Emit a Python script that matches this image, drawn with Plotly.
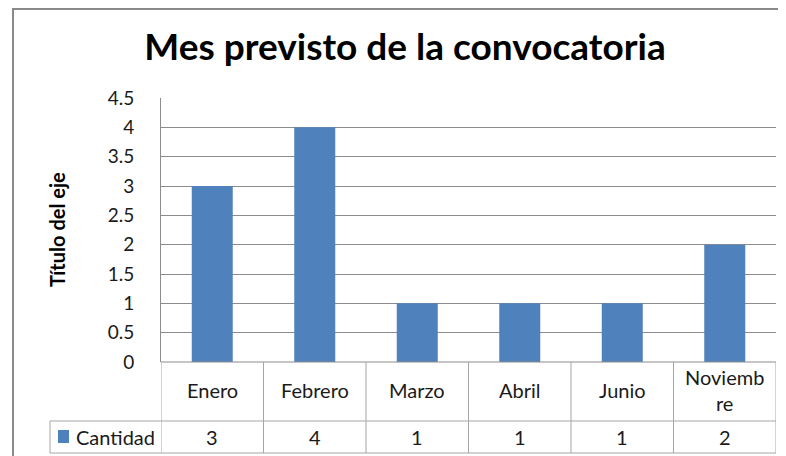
import plotly.graph_objects as go

# ---- data ----
categories = ["Enero", "Febrero", "Marzo", "Abril", "Junio", "Noviembre"]
tick_labels = ["Enero", "Febrero", "Marzo", "Abril", "Junio", "Noviemb<br>re"]
cantidad = [3, 4, 1, 1, 1, 2]
series_name = "Cantidad"
title_text = "Mes previsto de la convocatoria"
y_title = "Título del eje"
y_ticks = [0, 0.5, 1, 1.5, 2, 2.5, 3, 3.5, 4, 4.5]

BAR = "#4F81BD"
GRID = "#8C8C8C"
TBL = "#A6A6A6"
FONT = "Lato"
TXT = "#1a1a1a"

W, H = 786, 456
OFF = 8  # page body margin
L, R, T, B = 161 - OFF, 786 - (776 - OFF), 98 - OFF, 456 - (362 - OFF)
pw = W - L - R
ph = H - T - B


def py(p):  # reference pixel row -> paper y
    return (H - B - (p - OFF)) / ph


def px(p):  # reference pixel col -> paper x
    return ((p - OFF) - L) / pw


fig = go.Figure()
fig.add_trace(go.Bar(
    x=list(range(len(categories))), y=cantidad, name=series_name,
    marker=dict(color=BAR, line=dict(width=0)),
    hoverinfo="skip",
))

shapes = []
n = len(categories)
row1 = py(421)
row2 = py(453)
# outer frame
shapes.append(dict(type="rect", xref="paper", yref="paper",
                   x0=px(13), x1=px(900), y0=py(9), y1=py(700),
                   line=dict(color="#8A8A8A", width=2), layer="below"))
# table horizontal lines
shapes.append(dict(type="line", xref="paper", yref="paper", x0=0, x1=1, y0=0, y1=0,
                   line=dict(color=GRID, width=1)))
for yy in (row1, row2):
    shapes.append(dict(type="line", xref="paper", yref="paper", x0=px(50), x1=1,
                       y0=yy, y1=yy, line=dict(color=TBL, width=1)))
shapes.append(dict(type="line", xref="paper", yref="paper", x0=px(50), x1=px(50),
                   y0=row1, y1=row2, line=dict(color=TBL, width=1)))
# table vertical lines at category boundaries
for i in range(n + 1):
    shapes.append(dict(type="line", xref="x", yref="paper", x0=i - 0.5, x1=i - 0.5,
                       y0=0, y1=row2, line=dict(color=TBL, width=1)))
# legend key square
shapes.append(dict(type="rect", xref="paper", yref="paper",
                   x0=px(58), x1=px(69), y0=py(443), y1=py(430),
                   fillcolor=BAR, line=dict(width=0)))

annotations = []
for i, lab in enumerate(tick_labels):
    annotations.append(dict(x=i, y=py(390), xref="x", yref="paper", text=lab,
                            showarrow=False, font=dict(family=FONT, size=20, color=TXT),
                            xanchor="center", yanchor="middle"))
    annotations.append(dict(x=i, y=py(436.5), xref="x", yref="paper",
                            text=str(cantidad[i]), showarrow=False,
                            font=dict(family=FONT, size=20, color=TXT),
                            xanchor="center", yanchor="middle"))
annotations.append(dict(x=px(74), y=py(436.5), xref="paper", yref="paper",
                        text=series_name, showarrow=False,
                        font=dict(family=FONT, size=20, color=TXT),
                        xanchor="left", yanchor="middle"))
annotations.append(dict(x=px(57), y=0.5, xref="paper", yref="paper", text="<b>" + y_title + "</b>",
                        textangle=-90, showarrow=False,
                        font=dict(family=FONT, size=20, color="#000"),
                        xanchor="center", yanchor="middle"))

fig.update_layout(
    width=W, height=H,
    margin=dict(l=L, r=R, t=T, b=B, pad=0),
    paper_bgcolor="white", plot_bgcolor="white",
    showlegend=False,
    bargap=0.6,
    title=dict(text="<b>" + title_text + "</b>", x=(405 - OFF) / W, xanchor="center",
               y=1 - (47 - OFF) / H, yanchor="middle", xref="container", yref="container",
               font=dict(family=FONT, size=37, color="#000")),
    xaxis=dict(range=[-0.5, n - 0.5], showticklabels=False, showgrid=False,
               zeroline=False, showline=False, ticks=""),
    yaxis=dict(range=[0, 4.5], tickvals=y_ticks, ticktext=[f"{v:g}" for v in y_ticks],
               showgrid=True, gridcolor=GRID, gridwidth=1, zeroline=False,
               showline=True, linecolor=GRID, linewidth=1, ticks="",
               ticklabelstandoff=22,
               tickfont=dict(family=FONT, size=19, color=TXT)),
    shapes=shapes, annotations=annotations,
)

fig.write_html("out.html")
